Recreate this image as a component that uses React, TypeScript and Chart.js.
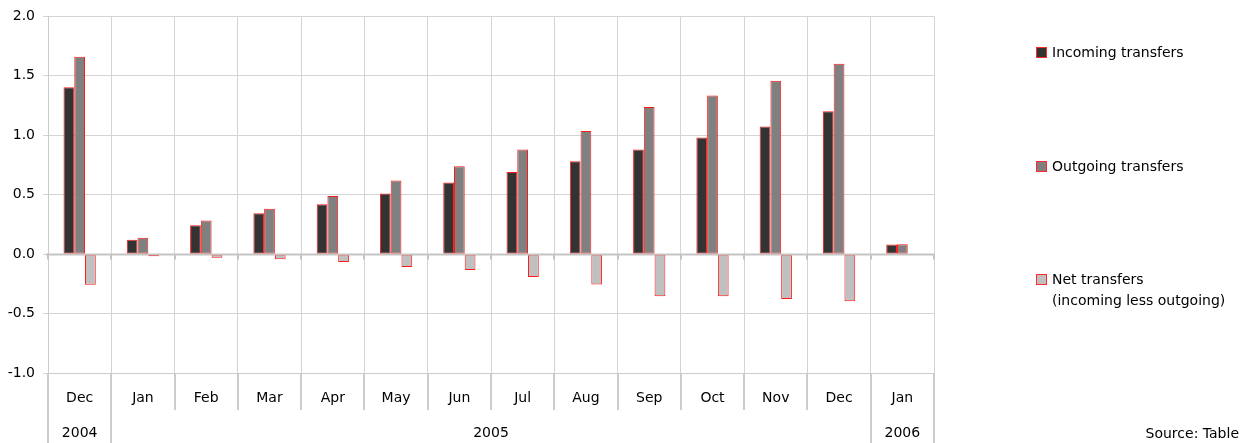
import { useEffect, useRef } from "react";
import { Chart, registerables } from "chart.js";

Chart.register(...registerables);

const months = ["Dec", "Jan", "Feb", "Mar", "Apr", "May", "Jun", "Jul", "Aug", "Sep", "Oct", "Nov", "Dec", "Jan"];
const yearLabels = ["2004", "2005", "2006"];
const yearSpans = [1, 12, 1];

const incoming = [1.405, 0.122, 0.243, 0.344, 0.42, 0.511, 0.603, 0.69, 0.782, 0.88, 0.981, 1.073, 1.201, 0.08];
const outgoing = [1.66, 0.137, 0.282, 0.382, 0.489, 0.62, 0.74, 0.88, 1.036, 1.237, 1.335, 1.458, 1.601, 0.084];
const net = [-0.257, -0.017, -0.031, -0.042, -0.067, -0.109, -0.134, -0.193, -0.255, -0.355, -0.355, -0.377, -0.397, -0.004];

const seriesLabels = ["Incoming transfers", "Outgoing transfers", "Net transfers\n(incoming less outgoing)"];
const seriesColors = ["#333333", "#808080", "#c0c0c0"];

const yTicks = { min: -1, max: 2, step: 0.5 };

const FONT = "DejaVu Sans";

// draws the two-level category axis, the zero line, the legend and the source note
const decorPlugin = {
  id: "decor",
  afterDraw(chart: any) {
    const ctx = chart.ctx;
    const area = chart.chartArea;
    const xs = chart.scales.x;
    const ys = chart.scales.y;
    const w = (xs.right - xs.left) / months.length;
    const H = chart.height;

    ctx.save();

    // zero line with small ticks
    const y0 = Math.round(ys.getPixelForValue(0)) + 0.5;
    ctx.strokeStyle = "#c4c4c4";
    ctx.lineWidth = 2;
    ctx.beginPath();
    ctx.moveTo(area.left - 2, y0);
    ctx.lineTo(area.right, y0);
    for (let i = 0; i <= months.length; i++) {
      const x = Math.round(xs.left + i * w);
      ctx.moveTo(x, y0);
      ctx.lineTo(x, y0 + 5);
    }
    ctx.stroke();

    // month tick marks below the axis
    ctx.strokeStyle = "#cccccc";
    ctx.lineWidth = 2;
    ctx.beginPath();
    for (let i = 0; i <= months.length; i++) {
      const x = Math.round(xs.left + i * w);
      ctx.moveTo(x, area.bottom);
      ctx.lineTo(x, area.bottom + 37);
    }
    ctx.stroke();

    // year separators and labels
    ctx.fillStyle = "#000";
    ctx.font = `14px '${FONT}'`;
    ctx.textAlign = "center";
    ctx.textBaseline = "middle";
    let start = 0;
    ctx.beginPath();
    ctx.moveTo(Math.round(xs.left), area.bottom);
    ctx.lineTo(Math.round(xs.left), H);
    yearSpans.forEach((span, k) => {
      const end = start + span;
      const xEnd = Math.round(xs.left + end * w);
      ctx.moveTo(xEnd, area.bottom);
      ctx.lineTo(xEnd, H);
      const xc = xs.left + ((start + end) / 2) * w;
      ctx.fillText(yearLabels[k], xc, area.bottom + 60);
      start = end;
    });
    ctx.stroke();

    // legend
    const legendX = 1036;
    const legendY = [52, 166, 279];
    chart.data.datasets.forEach((ds: any, i: number) => {
      const y = legendY[i];
      ctx.fillStyle = ds.backgroundColor;
      ctx.fillRect(legendX, y - 5, 11, 11);
      ctx.strokeStyle = "#ff2a2a";
      ctx.lineWidth = 1;
      ctx.strokeRect(legendX + 0.5, y - 4.5, 10, 10);
      ctx.fillStyle = "#000";
      ctx.textAlign = "left";
      ctx.textBaseline = "middle";
      String(ds.label)
        .split("\n")
        .forEach((line: string, j: number) => {
          ctx.fillText(line, legendX + 16, y + 1 + j * 21);
        });
    });

    // source
    ctx.textAlign = "right";
    ctx.fillText("Source: Table", 1239, 434);

    ctx.restore();
  },
};

function TransfersChart() {
  const chartRef = useRef<HTMLCanvasElement>(null);
  const chartInstance = useRef<Chart | null>(null);

  useEffect(() => {
    if (!chartRef.current) return;
    document.body.style.margin = "0";

    if (chartInstance.current) {
      chartInstance.current.destroy();
    }

    const ctx = chartRef.current.getContext("2d");
    if (!ctx) return;

    chartInstance.current = new Chart(ctx, {
      type: "bar",
      data: {
        labels: months,
        datasets: [incoming, outgoing, net].map((values, i) => ({
          label: seriesLabels[i],
          data: values,
          backgroundColor: seriesColors[i],
          borderColor: "#ff1a1a",
          borderWidth: 1,
          borderSkipped: false,
          categoryPercentage: 0.51,
          barPercentage: 1,
        })),
      },
      options: {
        animation: false,
        responsive: true,
        maintainAspectRatio: false,
        layout: {
          padding: { top: 16, right: 308, bottom: 0, left: 0 },
        },
        plugins: {
          legend: { display: false },
          tooltip: { enabled: true },
        },
        scales: {
          x: {
            grid: {
              offset: true,
              color: "#d4d4d4",
              lineWidth: 1,
              drawTicks: false,
            },
            border: { display: true, color: "#cccccc" },
            ticks: {
              color: "#000",
              padding: 17,
              maxRotation: 0,
              autoSkip: false,
              font: { family: FONT, size: 14 },
            },
            afterFit(scale: any) {
              scale.height = 70;
            },
          },
          y: {
            min: yTicks.min,
            max: yTicks.max,
            grid: {
              color: "#d4d4d4",
              lineWidth: 1,
              tickLength: 5,
            },
            border: { display: true, color: "#cccccc" },
            ticks: {
              stepSize: yTicks.step,
              color: "#000",
              padding: 8,
              font: { family: FONT, size: 14 },
              callback: (value: any) => Number(value).toFixed(1),
            },
            afterFit(scale: any) {
              scale.width = 48;
            },
          },
        },
      },
      plugins: [decorPlugin],
    });

    return () => {
      if (chartInstance.current) {
        chartInstance.current.destroy();
        chartInstance.current = null;
      }
    };
  }, []);

  return (
    <div style={{ position: "relative", width: 1242, height: 443 }}>
      <canvas ref={chartRef}></canvas>
    </div>
  );
}

export default function App() {
  return <TransfersChart />;
}
